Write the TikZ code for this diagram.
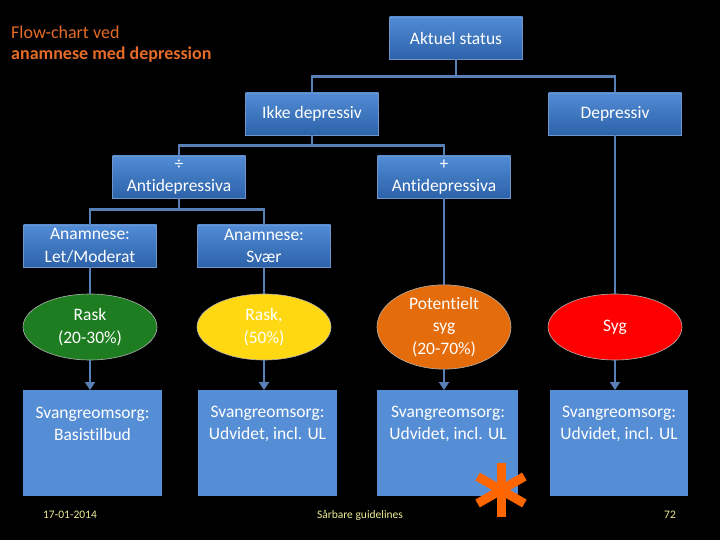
\documentclass[tikz,border=0pt]{standalone}
\usepackage{fontspec}
\setmainfont{Carlito}[Ligatures=NoCommon]
\usetikzlibrary{shapes.geometric,arrows.meta}
\definecolor{lineblue}{RGB}{88,128,182}
\definecolor{boxtop}{RGB}{82,140,214}
\definecolor{boxbot}{RGB}{44,98,168}
\definecolor{boxedge}{RGB}{110,150,205}
\definecolor{flatbox}{RGB}{86,142,213}
\definecolor{titleorange}{RGB}{228,108,40}
\definecolor{footyellow}{RGB}{238,236,150}
\definecolor{stargreen}{RGB}{30,125,32}
\definecolor{staryellow}{RGB}{255,216,20}
\definecolor{starorange}{RGB}{228,108,10}
\definecolor{starred}{RGB}{255,0,0}
\definecolor{astcol}{RGB}{255,102,0}
\tikzset{
  x=1pt,y=-1pt,
  big/.style={font=\fontsize{17.5}{22.5}\selectfont},
  gbox/.style={big,draw=boxedge,line width=0.8pt,top color=boxtop,bottom color=boxbot,
    text=white,align=center,inner sep=0pt,
    minimum width=133pt,minimum height=42pt},
  fbox/.style={fill=flatbox,inner sep=0pt,minimum height=106pt},
  btext/.style={big,text=white,align=center,inner sep=0pt},
  oval/.style={big,ellipse,draw=black!30!white,line width=0.6pt,text=white,
    align=center,inner sep=0pt,minimum width=134pt,minimum height=66pt},
  conn/.style={draw=lineblue,line width=2.6pt},
  arr/.style={conn,-{Triangle[length=8pt,width=10pt]}},
  foot/.style={text=footyellow,font=\fontsize{11.5}{13}\selectfont,inner sep=0pt}
}
\begin{document}
\begin{tikzpicture}
\fill[black] (0,0) rectangle (720,540);
\useasboundingbox (0,0) rectangle (720,540);
% title
\node[anchor=west,text=titleorange,font=\fontsize{18}{21}\selectfont,align=left,inner sep=0pt] (title) at (11,44)
  {Flow-chart ved\\\textbf{anamnese med depression}};
% top boxes
\node[gbox] (akt) at (456,38) {Aktuel status};
\node[gbox] (ikke) at (312,114) {Ikke depressiv};
\node[gbox] (dep) at (615,114) {Depressiv};
\node[gbox] (minus) at (179,177) {÷\\Antidepressiva};
\node[gbox] (plus) at (444,177) {+\\Antidepressiva};
\node[gbox] (let) at (90,246) {Anamnese:\\Let/Moderat};
\node[gbox] (svaer) at (264,246) {Anamnese:\\Svær};
% ellipses
\node[oval,fill=stargreen] (e1) at (90,327) {Rask\\(20-30\%)};
\node[oval,fill=staryellow] (e2) at (264,327) {Rask,\\(50\%)};
\node[oval,fill=starorange] (e3) at (444,327) {Potentielt\\syg\\(20-70\%)};
\node[oval,fill=starred] (e4) at (615,327) {Syg};
% bottom boxes
\node[fbox,minimum width=139pt,anchor=north] (b1) at (92.5,390) {};
\node[fbox,minimum width=139pt,anchor=north] (b2) at (267.5,390) {};
\node[fbox,minimum width=141pt,anchor=north] (b3) at (447.5,390) {};
\node[fbox,minimum width=138pt,anchor=north] (b4) at (619,390) {};
\node[btext] (t1) at (92.5,424) {Svangreomsorg:\\Basistilbud};
\node[btext] (t2) at (267.5,424) {Svangreomsorg:\\Udvidet, incl. UL};
\node[btext] (t3) at (448,424) {Svangreomsorg:\\Udvidet, incl. UL};
\node[btext] (t4) at (619,424) {Svangreomsorg:\\Udvidet, incl. UL};
% connectors (tree)
\draw[conn] (akt.south) -- ++(0,17) -| (ikke.north);
\draw[conn] (akt.south) ++(0,17) -| (dep.north);
\draw[conn] (ikke.south) -- ++(0,10) -| (minus.north);
\draw[conn] (ikke.south) ++(0,10) -| (plus.north);
\draw[conn] (minus.south) -- ++(0,11) -| (let.north);
\draw[conn] (minus.south) ++(0,11) -| (svaer.north);
\draw[conn] (let.south) -- (e1.north);
\draw[conn] (svaer.south) -- (e2.north);
\draw[conn] (plus.south) -- (e3.north);
\draw[conn] (dep.south) -- (e4.north);
\draw[arr] (e1.south) -- (b1.north -| e1.south);
\draw[arr] (e2.south) -- (b2.north -| e2.south);
\draw[arr] (e3.south) -- (b3.north -| e3.south);
\draw[arr] (e4.south) -- (b4.north -| e4.south);
% asterisk
\coordinate (ast) at (501,490);
\foreach \a in {90,30,150}
  \draw[astcol,line width=9pt] (ast) ++(\a:27) -- ++(\a+180:54);
% footer
\node[foot] (date) at (70,515) {17-01-2014};
\node[foot] (guide) at (360,515) {Sårbare guidelines};
\node[foot] (page) at (670,515) {72};
\end{tikzpicture}
\end{document}
